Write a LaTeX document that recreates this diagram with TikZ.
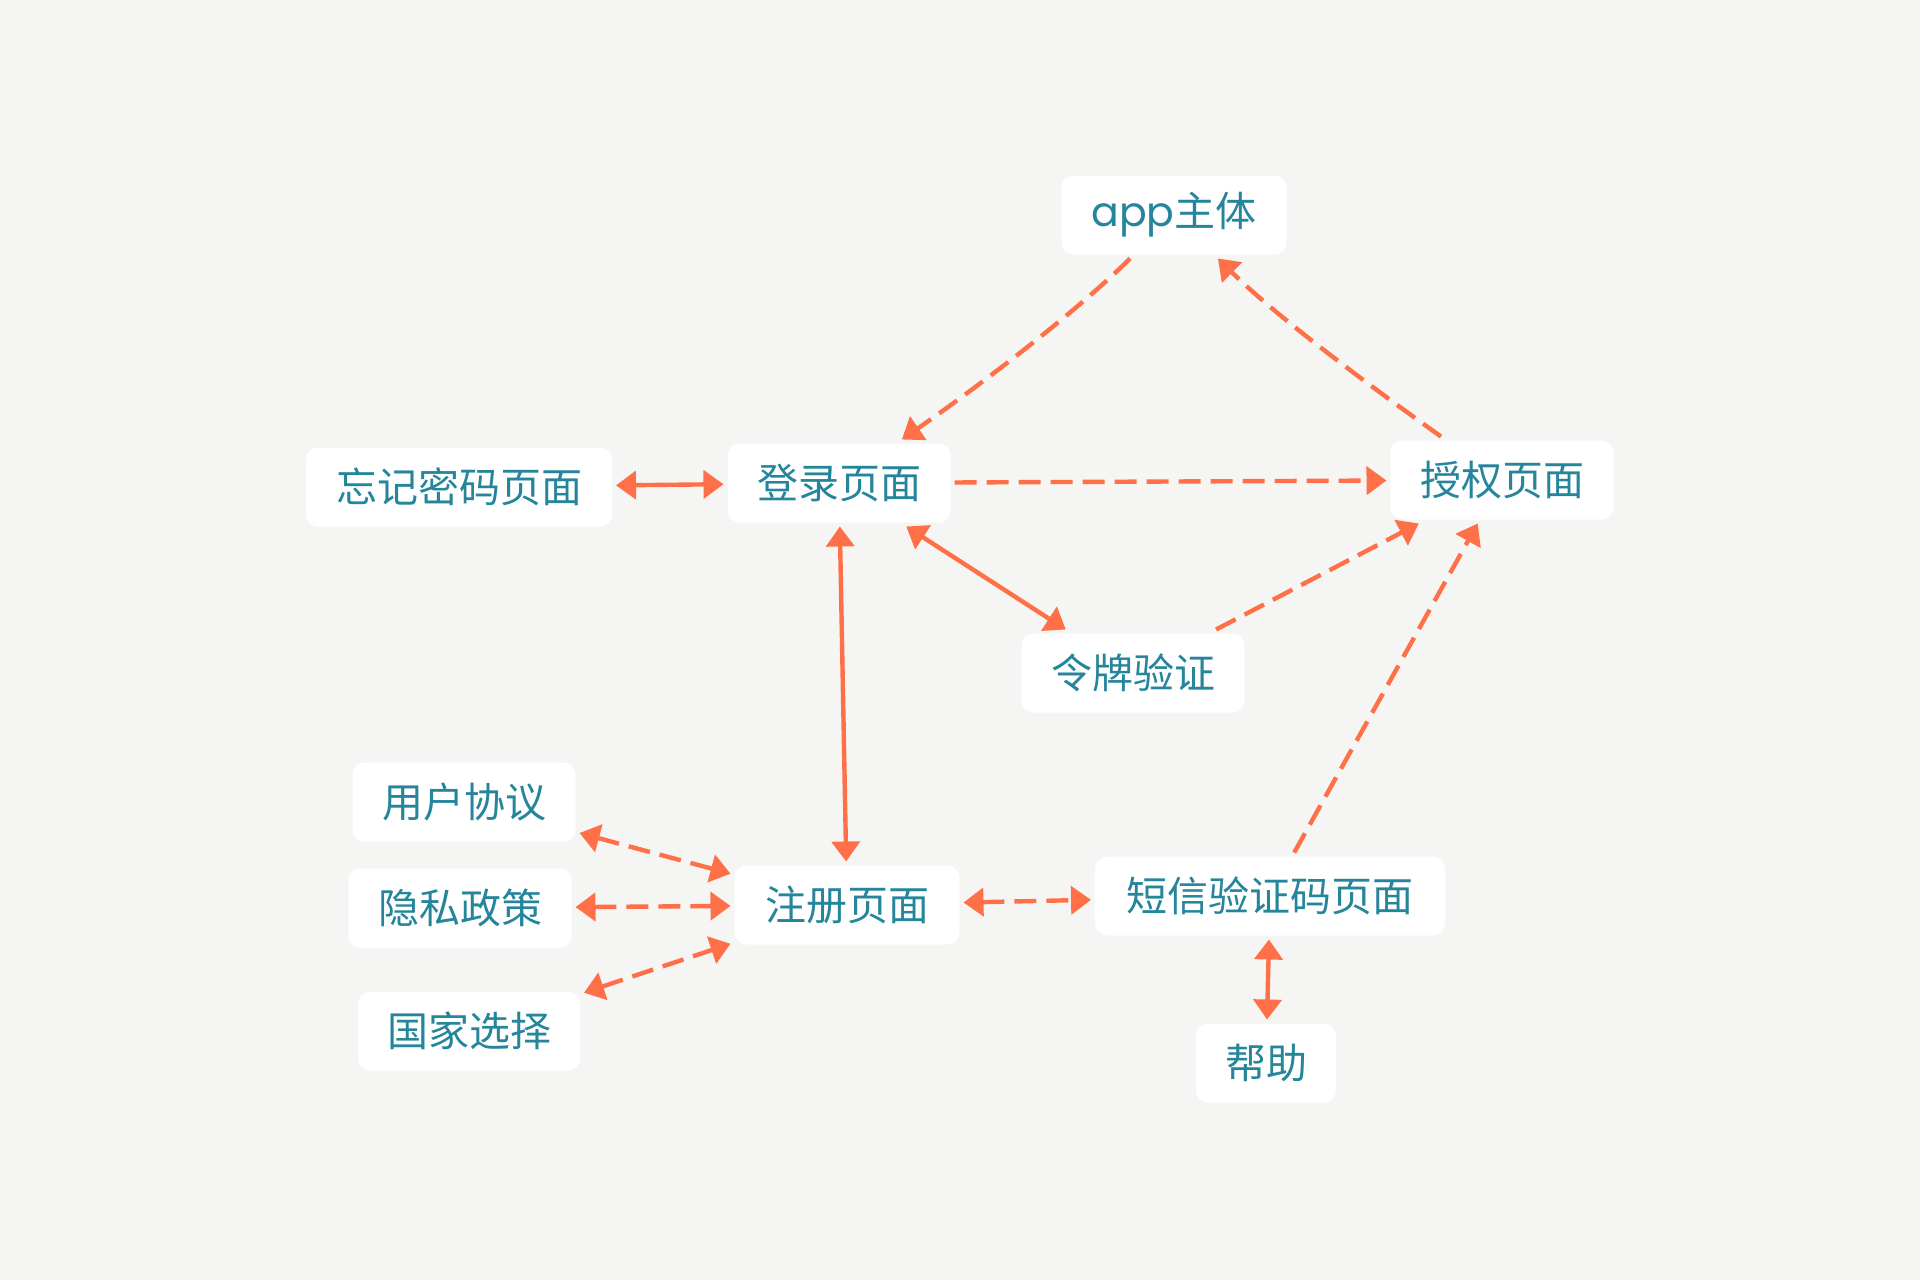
\documentclass[tikz,border=0pt]{standalone}
\usepackage{fontspec}
\usetikzlibrary{arrows.meta}
\newfontfamily\cjk{Noto Sans CJK SC}
\newfontfamily\latinfont{Poppins}
\definecolor{bgcol}{RGB}{245,246,243}
\definecolor{txtcol}{RGB}{37,133,155}
\definecolor{linkcol}{RGB}{255,112,72}
\tikzset{
  box/.style={fill=white, rounded corners=6pt, text=txtcol,
    font=\cjk\fontsize{20.5pt}{24pt}\selectfont,
    minimum width=#1, minimum height=39.5pt, inner ysep=2pt, inner xsep=4pt,
    outer sep=2pt},
  box/.default=111.5pt,
  link/.style={draw=linkcol, line width=2.2pt},
  dashlink/.style={link, dash pattern=on 11pt off 5pt},
  one/.style={-{Triangle[length=10pt,width=14pt]}},
  both/.style={{Triangle[length=10pt,width=14pt]}-{Triangle[length=10pt,width=14pt]}}
}
\begin{document}
\begin{tikzpicture}[x=0.5pt, y=-0.5pt]
  % canvas
  \fill[bgcol] (0,0) rectangle (1920,1280);
  \useasboundingbox (0,0) rectangle (1920,1280);

  % pages
  \node[box=112.5pt] (app)      at (1174,215) {{\latinfont app}主体};
  \node[box=153pt]   (forgot)   at (459,487)  {忘记密码页面};
  \node[box]         (login)    at (839,483)  {登录页面};
  \node[box]         (auth)     at (1502,480) {授权页面};
  \node[box]         (token)    at (1133,673) {令牌验证};
  \node[box]         (user)     at (464,802)  {用户协议};
  \node[box]         (privacy)  at (460,908)  {隐私政策};
  \node[box=111pt]   (country)  at (469,1031) {国家选择};
  \node[box=112.5pt] (register) at (847,905)  {注册页面};
  \node[box=175pt]   (sms)      at (1270,896) {短信验证码页面};
  \node[box=70pt]    (help)     at (1266,1063){帮助};

  % flows between pages
  \draw[dashlink, one] (app) .. controls (1071,317) and (969,393) .. (login);
  \draw[dashlink, one] (auth) .. controls (1377,391) and (1279,319) .. (app);
  \draw[dashlink, one] (login) -- (auth);
  \draw[link, both] (forgot) -- (login);
  \draw[link, both] (login) -- (register);
  \draw[link, both] (login) -- (token);
  \draw[dashlink, one] (token) -- (auth);
  \draw[dashlink, one] (sms) -- (auth);
  \draw[dashlink, both] (register) -- (sms);
  \draw[link, both] (sms) -- (help);
  \draw[dashlink, both] (user) -- (register);
  \draw[dashlink, both] (privacy) -- (register);
  \draw[dashlink, both] (country) -- (register);
\end{tikzpicture}
\end{document}
